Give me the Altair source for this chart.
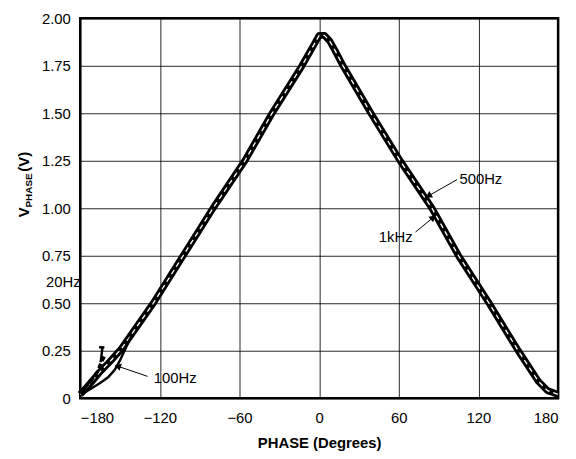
import math
import altair as alt
import pandas as pd

# ---------------- data ----------------
x_ticks = [-180, -120, -60, 0, 60, 120, 180]
y_ticks = [0, 0.25, 0.5, 0.75, 1.0, 1.25, 1.5, 1.75, 2.0]

# main (500Hz / 1kHz) band
main_phase = [-180, -176, -171, -165, -158, -149, -125, -102.5, -80, -56, -35.5, -13, -4, 0,
              4, 8, 12, 18, 39, 61, 85, 105, 128, 150, 165, 172, 176, 180]
main_v = [0.02, 0.05, 0.09, 0.14, 0.19, 0.26, 0.5, 0.75, 1.0, 1.25, 1.5, 1.75, 1.86, 1.91,
          1.91, 1.88, 1.83, 1.75, 1.5, 1.25, 1.0, 0.75, 0.5, 0.25, 0.09, 0.04, 0.03, 0.02]

# 100Hz curve (lower loop near -180)
hz100_phase = [-179, -172, -165, -159, -154, -150, -146, -142]
hz100_v = [0.02, 0.05, 0.08, 0.11, 0.15, 0.2, 0.26, 0.32]

# 20Hz curve (dashed piece near -180)
hz20_phase = [-179, -176, -171, -167, -164, -162]
hz20_v = [0.02, 0.06, 0.10, 0.14, 0.19, 0.22]

# annotation labels
label_text = ["20Hz", "100Hz", "500Hz", "1kHz"]
label_phase = [-192.7, -108.5, 121.8, 57.7]
label_v = [0.609, 0.104, 1.156, 0.849]

# arrows (from -> tip)
arrow_from_phase = [-129.3, 103.9, 72.6]
arrow_from_v = [0.115, 1.151, 0.875]
arrow_tip_phase = [-151.0, 83.0, 85.3]
arrow_tip_v = [0.167, 1.068, 0.948]

# 20Hz "T" marker
t_stem_phase = [-164.6, -163.3]
t_stem_v = [0.19, 0.265]
t_bar_phase = [-165.8, -161.8]
t_bar_v = [0.268, 0.268]

# ---------------- chart ----------------
W, H = 483, 384
PX_PER_DEG = W / 360.0
PX_PER_V = H / 2.0

xs = alt.Scale(domain=[-180, 180], nice=False, zero=False)
ys = alt.Scale(domain=[0, 2], nice=False, zero=True)
FONT = "Liberation Sans"

main_df = pd.DataFrame({"phase": main_phase, "v": main_v})
hz100_df = pd.DataFrame({"phase": hz100_phase, "v": hz100_v})
hz20_df = pd.DataFrame({"phase": hz20_phase, "v": hz20_v})

x_axis = alt.Axis(values=x_ticks, title="PHASE (Degrees)",
                  labelExpr="replace(format(datum.value, 'd'), '-', '\u2212')",
                  labelPadding=13, titlePadding=10)
y_axis = alt.Axis(values=y_ticks, title=None,
                  labelExpr="datum.value == 0 ? '0' : format(datum.value, '.2f')",
                  labelPadding=10)

base_main = alt.Chart(main_df).encode(
    x=alt.X("phase:Q", scale=xs, axis=x_axis),
    y=alt.Y("v:Q", scale=ys, axis=y_axis),
)
main_black = base_main.mark_line(color="black", strokeWidth=7, strokeJoin="round")
main_white = base_main.mark_line(color="white", strokeWidth=1.3, strokeDash=[5, 4])

hz100 = alt.Chart(hz100_df).mark_line(color="black", strokeWidth=2.5).encode(
    x=alt.X("phase:Q", scale=xs), y=alt.Y("v:Q", scale=ys))
hz20 = alt.Chart(hz20_df).mark_line(color="black", strokeWidth=3.5, strokeDash=[5, 3]).encode(
    x=alt.X("phase:Q", scale=xs), y=alt.Y("v:Q", scale=ys))

# arrows
def head_angle(fp, fv, tp, tv):
    dx = (tp - fp) * PX_PER_DEG
    dy = -(tv - fv) * PX_PER_V
    return math.degrees(math.atan2(dx, -dy)) % 360

arrow_df = pd.DataFrame({
    "phase": arrow_from_phase, "v": arrow_from_v,
    "phase2": arrow_tip_phase, "v2": arrow_tip_v,
})
arrow_df["ang"] = [head_angle(a, b, c, d) for a, b, c, d in
                   zip(arrow_from_phase, arrow_from_v, arrow_tip_phase, arrow_tip_v)]

arrow_lines = alt.Chart(arrow_df).mark_rule(color="black", strokeWidth=1).encode(
    x=alt.X("phase:Q", scale=xs), y=alt.Y("v:Q", scale=ys),
    x2="phase2:Q", y2="v2:Q")
arrow_heads = alt.Chart(arrow_df).mark_point(shape="triangle", filled=True, color="black",
                                             size=55, opacity=1).encode(
    x=alt.X("phase2:Q", scale=xs), y=alt.Y("v2:Q", scale=ys),
    angle=alt.Angle("ang:Q", scale=None))

t_df = pd.DataFrame({
    "phase": [t_stem_phase[0], t_bar_phase[0]], "v": [t_stem_v[0], t_bar_v[0]],
    "phase2": [t_stem_phase[1], t_bar_phase[1]], "v2": [t_stem_v[1], t_bar_v[1]],
})
t_mark = alt.Chart(t_df).mark_rule(color="black", strokeWidth=2.5).encode(
    x=alt.X("phase:Q", scale=xs), y=alt.Y("v:Q", scale=ys), x2="phase2:Q", y2="v2:Q")

labels_df = pd.DataFrame({"phase": label_phase, "v": label_v, "label": label_text})
labels = alt.Chart(labels_df).mark_text(font=FONT, fontSize=15, color="black",
                                        align="center", baseline="middle").encode(
    x=alt.X("phase:Q", scale=xs), y=alt.Y("v:Q", scale=ys), text="label:N")

# y-axis title with subscript
one = pd.DataFrame({"a": [0]})
yt_v = alt.Chart(one).mark_text(text="V", font=FONT, fontSize=15, fontWeight="bold",
                                angle=270, align="center", baseline="middle",
                                color="black").encode(x=alt.value(-57), y=alt.value(196))
yt_sub = alt.Chart(one).mark_text(text="PHASE", font=FONT, fontSize=10, fontWeight="bold",
                                  angle=270, align="center", baseline="middle",
                                  color="black").encode(x=alt.value(-52), y=alt.value(174))
yt_unit = alt.Chart(one).mark_text(text="(V)", font=FONT, fontSize=15, fontWeight="bold",
                                   angle=270, align="center", baseline="middle",
                                   color="black").encode(x=alt.value(-57), y=alt.value(145))

chart = alt.layer(
    main_black, main_white, hz100, hz20, t_mark, arrow_lines, arrow_heads, labels,
    yt_v, yt_sub, yt_unit,
).properties(
    width=W, height=H,
    autosize=alt.AutoSizeParams(type="none"),
    padding={"left": 73, "top": 8, "right": 10, "bottom": 58},
).configure_view(
    stroke="black", strokeWidth=2.5,
).configure_axis(
    grid=True, gridColor="black", gridWidth=1, gridOpacity=0.85,
    domain=False, ticks=False,
    labelFont=FONT, labelFontSize=15, labelColor="black",
    titleFont=FONT, titleFontSize=15, titleFontWeight="bold", titleColor="black",
)

chart.save("out.html", embed_options={"renderer": "svg", "actions": False})
